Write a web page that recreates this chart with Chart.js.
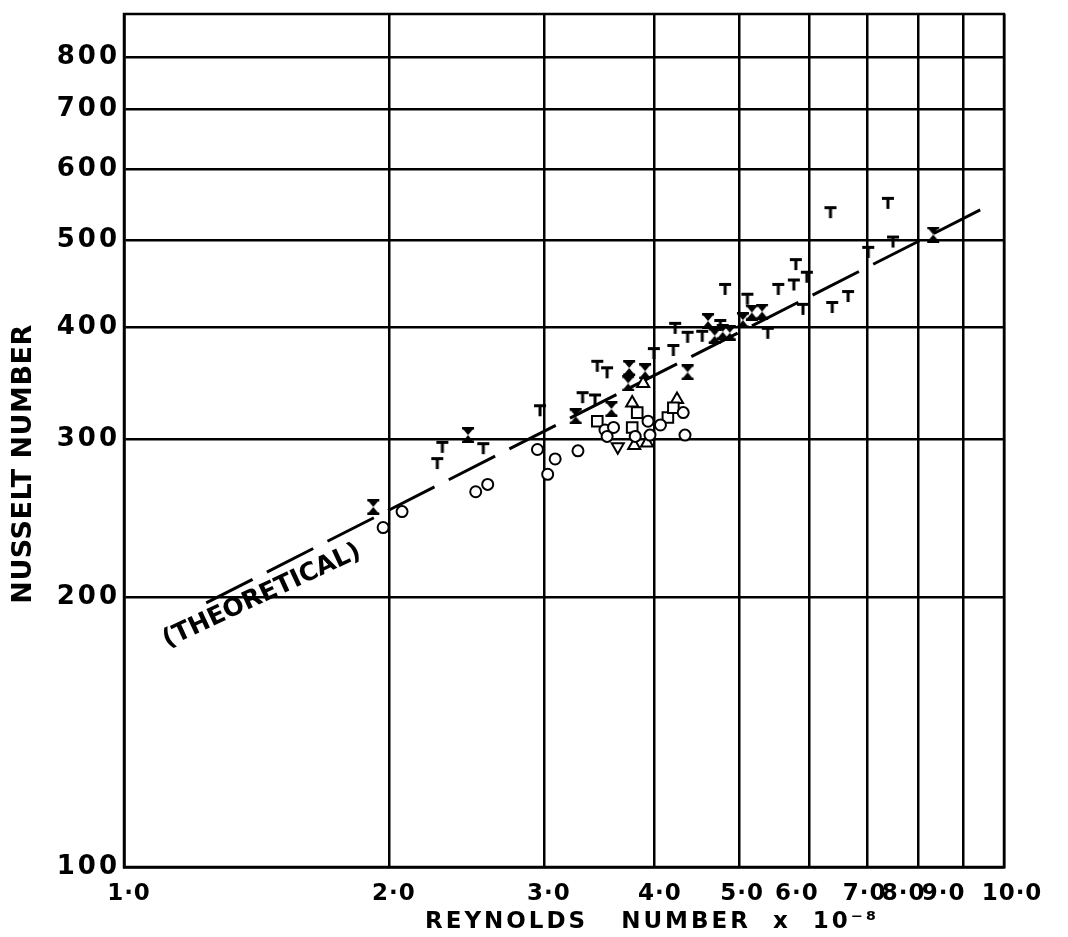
<!DOCTYPE html>
<html>
<head>
<meta charset="utf-8">
<title>Nusselt number against Reynolds number</title>
<script src="https://cdn.jsdelivr.net/npm/chart.js@4.4.1/dist/chart.umd.min.js"></script>
<style>
  html, body { margin: 0; padding: 0; background: #fff; }
  canvas { display: block; }
</style>
</head>
<body>
<canvas id="chart" width="1068" height="937" style="width:1068px;height:937px"></canvas>
<script>
// axis ticks
const xTicks = [1, 2, 3, 4, 5, 6, 7, 8, 9, 10];
const xTickLabels = ['1·0', '2·0', '3·0', '4·0', '5·0', '6·0', '7·0', '8·0', '9·0', '10·0'];
const yTicks = [100, 200, 300, 400, 500, 600, 700, 800];
const yTickLabels = ['100', '200', '300', '400', '500', '600', '700', '800'];

// theoretical line (ends)
const theoryRe = [1.24, 9.57];
const theoryNu = [197, 545];

// measured points, Reynolds number x 10^-8 / Nusselt number
const circleRe = [1.97, 2.07, 2.51, 2.59, 2.95, 3.09, 3.03, 3.28, 3.52, 3.60, 3.54, 3.81, 3.96, 4.07, 4.32, 4.34, 3.94];
const circleNu = [239, 249, 262, 267, 292, 285, 274, 291, 307, 309, 302, 302, 303, 311, 321, 303, 314];

const squareRe = [3.45, 3.83, 3.78, 4.15, 4.21];
const squareNu = [314, 321, 309, 317, 325];

const triUpRe = [3.78, 3.89, 3.80, 3.93, 4.25];
const triUpNu = [329, 346, 295, 297, 332];

const triDownRe = [3.64];
const triDownNu = [294];

const hourRe = [1.92, 2.46, 3.26, 3.58, 3.75, 3.74, 3.91, 4.37, 4.61, 4.69, 4.79, 4.88, 5.05, 5.17, 5.31, 8.31];
const hourNu = [252, 303, 318, 324, 360, 346, 357, 356, 406, 391, 395, 394, 407, 415, 416, 507];

const teeRe = [2.30, 2.27, 2.56, 2.97, 3.32, 3.43, 3.45, 3.54, 4.00, 4.21, 4.23, 4.37, 4.54, 4.76, 4.82, 5.11, 5.39, 5.54, 5.77, 5.80, 5.97, 5.91, 6.38, 6.65, 6.35, 7.38, 7.01, 7.48];
const teeNu = [294, 282, 293, 323, 334, 332, 362, 356, 374, 377, 399, 390, 391, 402, 441, 430, 394, 441, 446, 470, 455, 419, 421, 433, 537, 550, 485, 498];

// hand lettering of the x labels is not centred on the lines (px)
const xLabelShift = [5, 5, 5, 6, 3, -12, -3, -15, -20, 8];

const pts = (xs, ys) => xs.map((x, i) => ({ x: x, y: ys[i] }));

// little drawn symbols for the T and hourglass markers
function teeSymbol() {
  const c = document.createElement('canvas');
  c.width = 14; c.height = 14;
  const g = c.getContext('2d');
  g.fillStyle = '#000';
  g.fillRect(1, 1, 12, 3);
  g.fillRect(5.5, 1, 3, 12);
  return c;
}
function hourglassSymbol() {
  const c = document.createElement('canvas');
  c.width = 14; c.height = 16;
  const g = c.getContext('2d');
  g.fillStyle = '#000';
  g.fillRect(1, 0, 12, 2.5);
  g.fillRect(1, 13.5, 12, 2.5);
  g.beginPath();
  g.moveTo(2, 2); g.lineTo(12, 2); g.lineTo(7, 8); g.closePath();
  g.moveTo(2, 14); g.lineTo(12, 14); g.lineTo(7, 8); g.closePath();
  g.fill();
  return c;
}

const font = 'DejaVu Sans';

// wider lettering for tick labels, and the x label nudges
function styleLabels(axis, spacing, shifts) {
  if (axis._styled) return;
  axis._styled = true;
  const drawLabels = axis.drawLabels.bind(axis);
  axis.drawLabels = ca => {
    axis.ctx.letterSpacing = spacing;
    drawLabels(ca);
    axis.ctx.letterSpacing = '0px';
  };
  if (shifts) {
    const compute = axis._computeLabelItems.bind(axis);
    axis._computeLabelItems = ca => {
      const items = compute(ca);
      items.forEach((it, i) => { it.options.translation[0] += shifts[i] || 0; });
      return items;
    };
  }
}

const framePlugin = {
  id: 'frame',
  beforeDatasetsDraw(chart) {
    const { ctx, chartArea: a } = chart;
    ctx.save();
    ctx.strokeStyle = '#000';
    ctx.lineWidth = 2.5;
    ctx.strokeRect(a.left, a.top, a.right - a.left, a.bottom - a.top);
    ctx.restore();
  },
  afterDraw(chart) {
    const ctx = chart.ctx;
    ctx.save();
    ctx.fillStyle = '#000';
    ctx.textAlign = 'center';
    ctx.textBaseline = 'middle';

    // y title
    ctx.save();
    ctx.letterSpacing = '0.5px';
    ctx.translate(24, 464);
    ctx.rotate(-Math.PI / 2);
    ctx.font = 'bold 27px ' + font;
    ctx.fillText('NUSSELT NUMBER', 0, 0);
    ctx.restore();

    // x title
    ctx.letterSpacing = '3px';
    ctx.font = 'bold 23px ' + font;
    ctx.fillText('REYNOLDS   NUMBER  x  10⁻⁸', 652, 922);

    // label on the theoretical line
    ctx.letterSpacing = '0px';
    ctx.translate(262, 596);
    ctx.rotate(-25 * Math.PI / 180);
    ctx.font = 'bold 25px ' + font;
    ctx.fillText('(THEORETICAL)', 0, 0);
    ctx.restore();
    ctx.letterSpacing = '0px';
  }
};

const tee = teeSymbol();
const hourglass = hourglassSymbol();

new Chart(document.getElementById('chart'), {
  type: 'scatter',
  data: {
    datasets: [
      { label: 'T', data: pts(teeRe, teeNu), pointStyle: tee, pointRadius: 7 },
      { label: 'hourglass', data: pts(hourRe, hourNu), pointStyle: hourglass, pointRadius: 7 },
      { label: 'circle', data: pts(circleRe, circleNu), pointStyle: 'circle', pointRadius: 5.5,
        borderColor: '#000', backgroundColor: '#fff', borderWidth: 2 },
      { label: 'square', data: pts(squareRe, squareNu), pointStyle: 'rect', pointRadius: 7.5,
        borderColor: '#000', backgroundColor: '#fff', borderWidth: 2 },
      { label: 'triangle', data: pts(triUpRe, triUpNu), pointStyle: 'triangle', pointRadius: 7,
        borderColor: '#000', backgroundColor: '#fff', borderWidth: 2 },
      { label: 'inverted triangle', data: pts(triDownRe, triDownNu), pointStyle: 'triangle', rotation: 180,
        pointRadius: 7, borderColor: '#000', backgroundColor: '#fff', borderWidth: 2 },
      { label: 'theoretical', data: pts(theoryRe, theoryNu), showLine: true, pointRadius: 0,
        borderColor: '#000', borderWidth: 3, borderDash: [52, 16] }
    ]
  },
  options: {
    responsive: false,
    animation: false,
    events: [],
    layout: { padding: { left: 0, right: 64, top: 14, bottom: 0 } },
    plugins: { legend: { display: false }, tooltip: { enabled: false } },
    scales: {
      x: {
        type: 'logarithmic', min: 1, max: 10,
        afterBuildTicks: s => { s.ticks = xTicks.map(v => ({ value: v })); },
        afterFit: s => { s.height = 70; s.paddingLeft = 0; s.paddingRight = 0; },
        afterUpdate: s => styleLabels(s, '1px', xLabelShift),
        grid: { color: '#000', lineWidth: 2.5, drawTicks: false },
        border: { color: '#000', width: 2.5 },
        ticks: {
          autoSkip: false, maxRotation: 0, minRotation: 0, padding: 13, color: '#000',
          font: { family: font, size: 23, weight: 'bold' },
          callback: v => xTickLabels[xTicks.indexOf(v)]
        }
      },
      y: {
        type: 'logarithmic', min: 100, max: 893,
        afterBuildTicks: s => { s.ticks = yTicks.map(v => ({ value: v })); },
        afterFit: s => { s.width = 124; s.paddingTop = 0; s.paddingBottom = 0; },
        afterUpdate: s => styleLabels(s, '3px'),
        grid: { color: '#000', lineWidth: 2.5, drawTicks: false },
        border: { color: '#000', width: 2.5 },
        ticks: {
          autoSkip: false, padding: 4, color: '#000',
          font: { family: font, size: 26, weight: 'bold' },
          callback: v => yTickLabels[yTicks.indexOf(v)]
        }
      }
    }
  },
  plugins: [framePlugin]
});
</script>
</body>
</html>
